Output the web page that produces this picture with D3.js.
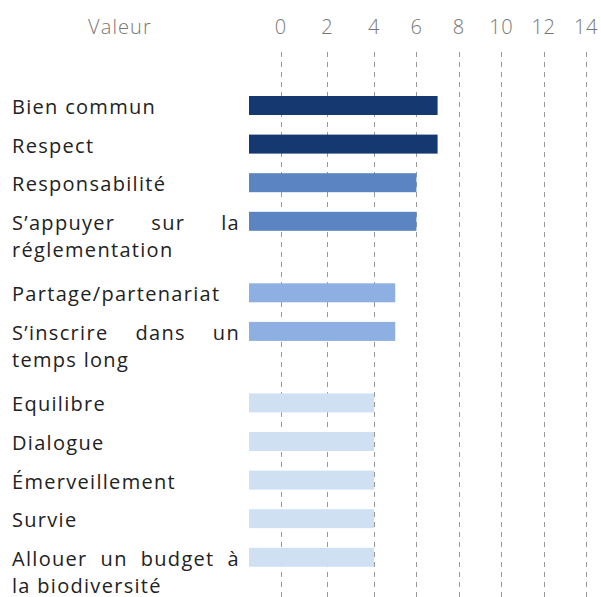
<!DOCTYPE html>
<html>
<head>
<meta charset="utf-8">
<script src="https://cdn.jsdelivr.net/npm/d3@7"></script>
<style>
  body { margin: 0; background: #fff; }
  svg { display: block; font-family: "Open Sans", sans-serif; }
</style>
</head>
<body>
<div id="container"></div>
<script>
/* DATA */
const categories = [
  "Bien commun",
  "Respect",
  "Responsabilité",
  "S’appuyer sur la\nréglementation",
  "Partage/partenariat",
  "S’inscrire dans un\ntemps long",
  "Equilibre",
  "Dialogue",
  "Émerveillement",
  "Survie",
  "Allouer un budget à\nla biodiversité"
];
const values = [7, 7, 6, 6, 5, 5, 4, 4, 4, 4, 4];
const tickValues = [0, 2, 4, 6, 8, 10, 12, 14];
const axisTitle = "Valeur";

/* CONSTANTS */
const width = 601;
const height = 597;
const labelLeft = 12;
const labelRight = 240;
const barLeft = 249;
const firstRow = 96;
const rowStep = 38.6;
const extraLine = 32.9;
const barHeight = 19;
const lineHeight = 27;

const svg = d3.select("#container").append("svg")
  .attr("width", width)
  .attr("height", height);

/* SCALES */
// the grid in the original is a little uneven: wider steps up to 4
const xScale = d3.scaleLinear()
  .domain([0, 4, 14])
  .range([280.7, 374, 586]);

const color = d3.scaleOrdinal()
  .domain([7, 6, 5, 4])
  .range(["#163870", "#5b85c2", "#8eafe2", "#cfe0f3"]);

// row tops: two-line labels make a taller row
const rows = categories.map(c => c.split("\n"));
const rowTop = [];
rows.reduce((y, lines, i) => {
  rowTop[i] = y;
  return y + rowStep + extraLine * (lines.length - 1);
}, firstRow);

/* GRID */
svg.append("g")
  .selectAll("line")
  .data(tickValues)
  .join("line")
  .attr("x1", d => Math.round(xScale(d)) + 0.5)
  .attr("x2", d => Math.round(xScale(d)) + 0.5)
  .attr("y1", 52)
  .attr("y2", height)
  .attr("stroke", "#999")
  .attr("stroke-width", 1)
  .attr("stroke-dasharray", "5,5");

/* AXIS LABELS */
svg.append("g")
  .selectAll("text")
  .data(tickValues)
  .join("text")
  .attr("x", d => xScale(d))
  .attr("y", 34)
  .attr("text-anchor", "middle")
  .attr("font-size", 20)
  .attr("font-weight", 300)
  .attr("letter-spacing", 0.6)
  .attr("fill", "#777")
  .text(d => d);

svg.append("text")
  .attr("x", labelRight / 2)
  .attr("y", 34)
  .attr("text-anchor", "middle")
  .attr("font-size", 20)
  .attr("font-weight", 300)
  .attr("letter-spacing", 1.1)
  .attr("fill", "#777")
  .text(axisTitle);

/* BARS */
svg.append("g")
  .selectAll("rect")
  .data(values)
  .join("rect")
  .attr("x", barLeft)
  .attr("y", (d, i) => rowTop[i])
  .attr("width", d => xScale(d) - barLeft)
  .attr("height", barHeight)
  .attr("fill", d => color(d));

/* CATEGORY LABELS (justified like the original table cells) */
const labels = svg.append("g")
  .attr("font-size", 20)
  .attr("letter-spacing", 1.3)
  .attr("fill", "#222");

rows.forEach((lines, i) => {
  lines.forEach((line, j) => {
    const y = rowTop[i] + barHeight - 1 + j * lineHeight;
    const words = line.split(" ");
    const last = j === lines.length - 1;
    if (last || words.length < 2) {
      labels.append("text").attr("x", labelLeft).attr("y", y).text(line);
      return;
    }
    const texts = words.map(w => labels.append("text").attr("y", y).text(w));
    const widths = texts.map(t => t.node().getComputedTextLength());
    const gap = (labelRight - labelLeft - d3.sum(widths)) / (words.length - 1);
    let x = labelLeft;
    texts.forEach((t, k) => {
      t.attr("x", x);
      x += widths[k] + gap;
    });
  });
});
</script>
</body>
</html>
